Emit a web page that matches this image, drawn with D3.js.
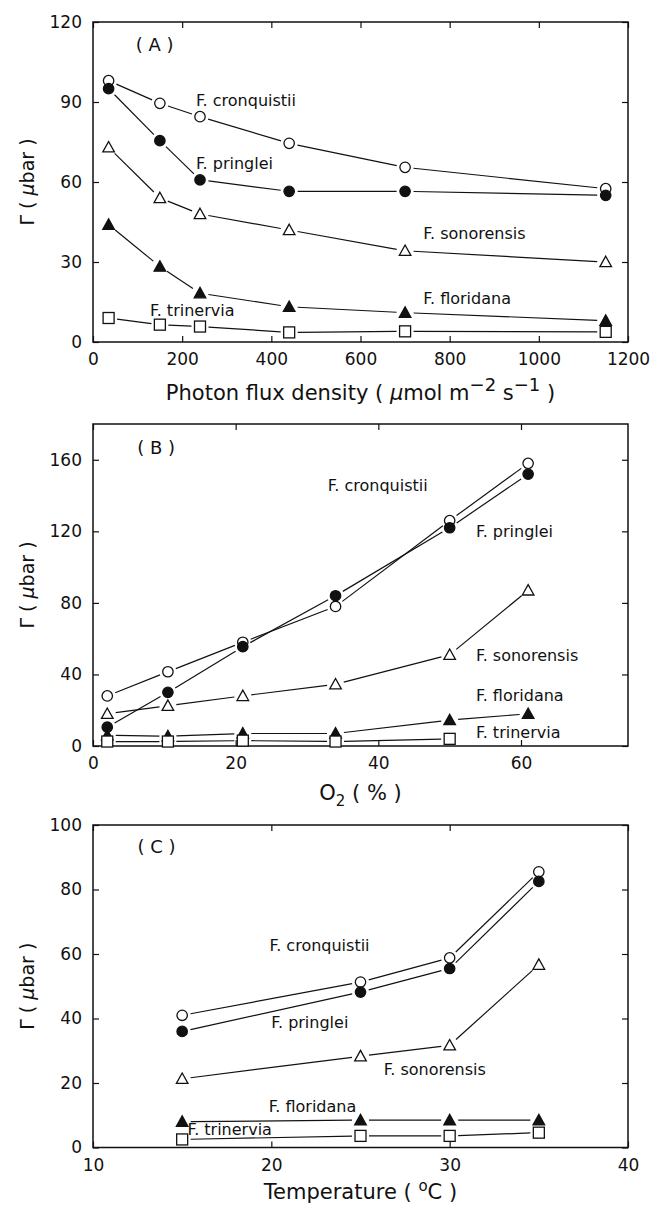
<!DOCTYPE html>
<html>
<head>
<meta charset="utf-8">
<script src="https://cdn.jsdelivr.net/npm/d3@7"></script>
<style>
  body { margin: 0; background: #fff; }
  svg text { font-family: "DejaVu Sans", sans-serif; fill: #111; }
</style>
</head>
<body>
<svg id="canvas" width="656" height="1207"></svg>
<script>
// species, in drawing order
let speciesNames = ["F. cronquistii", "F. pringlei", "F. sonorensis", "F. floridana", "F. trinervia"];

// (A) photon flux density
let photonFlux = [35, 150, 240, 440, 700, 1150];
let aCronquistii = [98, 89.5, 84.5, 74.5, 65.5, 57.5];
let aPringlei = [95, 75.5, 60.8, 56.5, 56.5, 55];
let aSonorensis = [73, 54, 48, 42, 34.2, 30];
let aFloridana = [44, 28.3, 18.3, 13.2, 11, 8];
let aTrinervia = [9, 6.5, 5.8, 3.6, 4, 3.8];

// (B) oxygen
let oxygen = [2, 10.5, 21, 34, 50, 61];
let bCronquistii = [28, 41.5, 58, 78, 126, 158];
let bPringlei = [10.5, 30, 55.5, 84, 122, 152];
let bSonorensis = [18, 22.5, 28, 34.5, 51, 87];
let bFloridana = [6, 5.5, 7, 7, 14.5, 18];
let bTrinervia = [2.5, 2.5, 3, 2.5, 4];

// (C) temperature
let temperature = [15, 25, 30, 35];
let cCronquistii = [41, 51.3, 58.8, 85.5];
let cPringlei = [36, 48.2, 55.5, 82.5];
let cSonorensis = [21.3, 28.3, 31.7, 56.7];
let cFloridana = [8, 8.5, 8.5, 8.5];
let cTrinervia = [2.5, 3.6, 3.6, 4.6];

// tick values
let aXTicks = [0, 200, 400, 600, 800, 1000, 1200];
let aYTicks = [0, 30, 60, 90, 120];
let bXTicks = [0, 20, 40, 60];
let bYTicks = [0, 40, 80, 120, 160];
let cXTicks = [10, 20, 30, 40];
let cYTicks = [0, 20, 40, 60, 80, 100];

let markerKind = ["openCircle", "filledCircle", "openTriangle", "filledTriangle", "openSquare"];

let svg = d3.select("#canvas");
let left = 93, right = 628;

let panels = [
  {
    tag: "( A )", top: 22, bottom: 342, titleY: 400,
    xDomain: [0, 1200], yDomain: [0, 120], xTicks: aXTicks, yTicks: aYTicks,
    x: photonFlux, series: [aCronquistii, aPringlei, aSonorensis, aFloridana, aTrinervia],
    tagAt: [96, 111.4],
    labelAt: [[231, 90.7], [231, 67.1], [741, 40.9], [741, 16.5], [128, 12]],
    title: "photon"
  },
  {
    tag: "( B )", top: 424, bottom: 746, titleY: 800,
    xDomain: [0, 75], yDomain: [0, 180], xTicks: bXTicks, yTicks: bYTicks,
    x: oxygen, series: [bCronquistii, bPringlei, bSonorensis, bFloridana, bTrinervia],
    tagAt: [6.2, 166.6],
    labelAt: [[32.9, 145.9], [53.7, 120.2], [53.7, 50.9], [53.7, 28.5], [53.7, 7.8]],
    title: "oxygen"
  },
  {
    tag: "( C )", top: 825, bottom: 1147.5, titleY: 1199,
    xDomain: [10, 40], yDomain: [0, 100], xTicks: cXTicks, yTicks: cYTicks,
    x: temperature, series: [cCronquistii, cPringlei, cSonorensis, cFloridana, cTrinervia],
    tagAt: [12.5, 93.2],
    labelAt: [[19.9, 62.8], [20, 38.9], [26.3, 24.3], [19.85, 12.6], [15.3, 5.7]],
    title: "temp"
  }
];

// line segments stop short of the markers
let gapLines = (g, pts) => {
  let gap = 8.5;
  for (let i = 0; i < pts.length - 1; i++) {
    let [x0, y0] = pts[i], [x1, y1] = pts[i + 1];
    let dx = x1 - x0, dy = y1 - y0, len = Math.hypot(dx, dy);
    if (len <= 2 * gap) continue;
    let ux = dx / len, uy = dy / len;
    g.append("line")
      .attr("x1", x0 + ux * gap).attr("y1", y0 + uy * gap)
      .attr("x2", x1 - ux * gap).attr("y2", y1 - uy * gap)
      .attr("stroke", "#111").attr("stroke-width", 1.2);
  }
};

let drawMarker = (g, kind, px, py) => {
  let filled = kind.startsWith("filled");
  let fill = filled ? "#111" : "#fff";
  if (kind.endsWith("Circle")) {
    g.append("circle").attr("cx", px).attr("cy", py).attr("r", 5.2)
      .attr("fill", fill).attr("stroke", "#111").attr("stroke-width", 1.3);
  } else if (kind.endsWith("Triangle")) {
    let s = 5.8;
    g.append("path")
      .attr("d", `M${px},${py - s}L${px + s},${py + s * 0.8}L${px - s},${py + s * 0.8}Z`)
      .attr("fill", fill).attr("stroke", "#111").attr("stroke-width", 1.3);
  } else {
    g.append("rect").attr("x", px - 5.5).attr("y", py - 5.5).attr("width", 11).attr("height", 11)
      .attr("fill", fill).attr("stroke", "#111").attr("stroke-width", 1.3);
  }
};

panels.forEach((p) => {
  let xScale = d3.scaleLinear().domain(p.xDomain).range([left, right]);
  let yScale = d3.scaleLinear().domain(p.yDomain).range([p.bottom, p.top]);
  let g = svg.append("g");

  // axes with inward ticks on all four sides
  let fmt = d3.format("d");
  let bottomAxis = d3.axisBottom(xScale).tickValues(p.xTicks).tickFormat(fmt).tickSizeInner(-6).tickSizeOuter(0).tickPadding(11);
  let leftAxis = d3.axisLeft(yScale).tickValues(p.yTicks).tickFormat(fmt).tickSizeInner(-6).tickSizeOuter(0).tickPadding(11);
  let topAxis = d3.axisTop(xScale).tickValues(p.xTicks).tickSizeInner(-6).tickSizeOuter(0).tickFormat("");
  let rightAxis = d3.axisRight(yScale).tickValues(p.yTicks).tickSizeInner(-6).tickSizeOuter(0).tickFormat("");

  let ax = [
    g.append("g").attr("transform", `translate(0,${p.bottom})`).call(bottomAxis),
    g.append("g").attr("transform", `translate(${left},0)`).call(leftAxis),
    g.append("g").attr("transform", `translate(0,${p.top})`).call(topAxis),
    g.append("g").attr("transform", `translate(${right},0)`).call(rightAxis)
  ];
  ax.forEach((a) => {
    a.select(".domain").remove();
    a.selectAll(".tick line").attr("stroke", "#111").attr("stroke-width", 1.2);
    a.selectAll(".tick text").attr("font-size", 17).attr("font-family", "DejaVu Sans").attr("fill", "#111");
  });

  g.append("rect")
    .attr("x", left).attr("y", p.top)
    .attr("width", right - left).attr("height", p.bottom - p.top)
    .attr("fill", "none").attr("stroke", "#111").attr("stroke-width", 1.5);

  // series
  p.series.forEach((vals, i) => {
    let pts = vals.map((v, j) => [xScale(p.x[j]), yScale(v)]);
    gapLines(g, pts);
  });
  p.series.forEach((vals, i) => {
    vals.forEach((v, j) => drawMarker(g, markerKind[i], xScale(p.x[j]), yScale(v)));
  });

  // species labels
  speciesNames.forEach((name, i) => {
    g.append("text").text(name)
      .attr("x", xScale(p.labelAt[i][0])).attr("y", yScale(p.labelAt[i][1]))
      .attr("dy", "0.35em").attr("font-size", 16);
  });

  g.append("text").text(p.tag)
    .attr("x", xScale(p.tagAt[0])).attr("y", yScale(p.tagAt[1]))
    .attr("dy", "0.35em").attr("font-size", 18).attr("xml:space", "preserve");

  // y title
  let midY = (p.top + p.bottom) / 2;
  let yt = g.append("text")
    .attr("transform", `translate(34,${midY}) rotate(-90)`)
    .attr("text-anchor", "middle").attr("font-size", 19);
  yt.append("tspan").text("\u0393 ( ");
  yt.append("tspan").text("\u03bc").attr("font-style", "italic");
  yt.append("tspan").text("bar )");

  // x title
  let midX = (left + right) / 2;
  let xt = g.append("text").attr("x", midX).attr("y", p.titleY)
    .attr("text-anchor", "middle").attr("font-size", 21);
  if (p.title === "photon") {
    xt.append("tspan").text("Photon flux density ( ");
    xt.append("tspan").text("\u03bc").attr("font-style", "italic");
    xt.append("tspan").text("mol m");
    xt.append("tspan").text("\u22122").attr("dy", -9).attr("font-size", 18);
    xt.append("tspan").text(" s").attr("dy", 9);
    xt.append("tspan").text("\u22121").attr("dy", -9).attr("font-size", 18);
    xt.append("tspan").text(" )").attr("dy", 9);
  } else if (p.title === "oxygen") {
    xt.append("tspan").text("O");
    xt.append("tspan").text("2").attr("dy", 6).attr("font-size", 15);
    xt.append("tspan").text("  (  %  )").attr("dy", -6);
  } else {
    xt.append("tspan").text("Temperature ( ");
    xt.append("tspan").text("o").attr("dy", -8).attr("font-size", 15);
    xt.append("tspan").text("C )").attr("dy", 8);
  }
});
</script>
</body>
</html>
